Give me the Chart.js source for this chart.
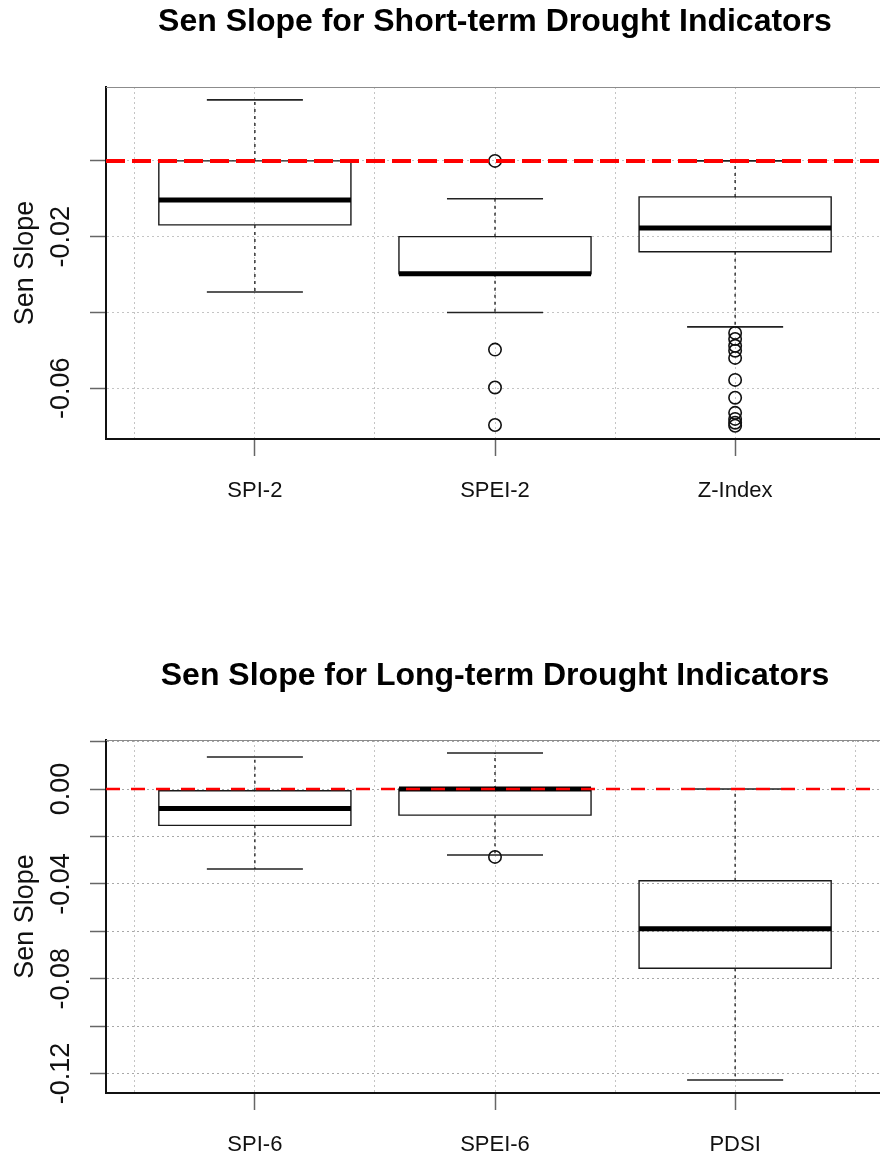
<!DOCTYPE html>
<html>
<head>
<meta charset="utf-8">
<title>Sen Slope boxplots</title>
<script src="https://cdn.jsdelivr.net/npm/chart.js@4.4.0/dist/chart.umd.min.js"></script>
<style>
  html, body { margin: 0; padding: 0; background: #fff; width: 880px; height: 1156px; overflow: hidden; }
  .panel { position: absolute; left: 0; width: 990px; }
  #short-panel { top: 0; height: 540px; }
  #long-panel { top: 620px; height: 536px; }
</style>
</head>
<body>
<div class="panel" id="short-panel"><canvas id="shortChart"></canvas></div>
<div class="panel" id="long-panel"><canvas id="longChart"></canvas></div>
<script>
// Short-term indicators
const shortCategories = ['SPI-2', 'SPEI-2', 'Z-Index'];
const shortUpper = [0.0161, -0.0100, 0.0];
const shortQ3 = [0.0, -0.0200, -0.0095];
const shortMedian = [-0.0103, -0.0298, -0.0177];
const shortQ1 = [-0.0169, -0.0298, -0.0240];
const shortLower = [-0.0346, -0.0400, -0.0438];
const shortOutliers = [
    [],
    [0.0, -0.0498, -0.0598, -0.0697],
    [-0.0454, -0.0470, -0.0488, -0.0501, -0.0520, -0.0578, -0.0625, -0.0665, -0.0681, -0.0691, -0.0699]
];
const shortYTicks = [0, -0.02, -0.04, -0.06];
const shortYTickLabels = ['', '-0.02', '', '-0.06'];

// Long-term indicators
const longCategories = ['SPI-6', 'SPEI-6', 'PDSI'];
const longUpper = [0.0135, 0.0152, 0.0];
const longQ3 = [-0.0007, 0.0, -0.0387];
const longMedian = [-0.0082, 0.0, -0.0589];
const longQ1 = [-0.0153, -0.0110, -0.0756];
const longLower = [-0.0337, -0.0278, -0.1227];
const longOutliers = [[], [-0.0286], []];
const longYTicks = [0.02, 0, -0.02, -0.04, -0.06, -0.08, -0.10, -0.12];
const longYTickLabels = ['', '0.00', '', '-0.04', '', '-0.08', '', '-0.12'];

const xGridTicks = [0.5, 1, 1.5, 2, 2.5, 3, 3.5];
const X_MIN = 0.38;
const X_MAX = 3.62;
const BOX_HALF = 0.4;
const CAP_HALF = 0.2;

const FONT = '"Liberation Sans", Arial, Helvetica, sans-serif';

// Build the line / point datasets for a boxplot
function boxDatasets(upper, q3, median, q1, lower, outliers, refStyle) {
    const boxPts = [], medPts = [], whiskPts = [], capPts = [], outPts = [];
    upper.forEach((_, i) => {
        const c = i + 1;
        const gap = { x: c, y: null };
        boxPts.push(
            { x: c - BOX_HALF, y: q1[i] }, { x: c + BOX_HALF, y: q1[i] },
            { x: c + BOX_HALF, y: q3[i] }, { x: c - BOX_HALF, y: q3[i] },
            { x: c - BOX_HALF, y: q1[i] }, gap
        );
        medPts.push({ x: c - BOX_HALF, y: median[i] }, { x: c + BOX_HALF, y: median[i] }, gap);
        whiskPts.push({ x: c, y: q3[i] }, { x: c, y: upper[i] }, gap);
        whiskPts.push({ x: c, y: q1[i] }, { x: c, y: lower[i] }, gap);
        capPts.push({ x: c - CAP_HALF, y: upper[i] }, { x: c + CAP_HALF, y: upper[i] }, gap);
        capPts.push({ x: c - CAP_HALF, y: lower[i] }, { x: c + CAP_HALF, y: lower[i] }, gap);
        outliers[i].forEach(v => outPts.push({ x: c, y: v }));
    });

    const line = (data, extra) => Object.assign({
        data: data,
        showLine: true,
        pointRadius: 0,
        borderColor: '#1a1a1a',
        borderWidth: 1.4,
        spanGaps: false
    }, extra);

    return [
        line([{ x: X_MIN, y: 0 }, { x: X_MAX, y: 0 }], {
            borderColor: '#ff0000',
            borderWidth: refStyle.width,
            borderDash: refStyle.dash,
            borderCapStyle: 'butt'
        }),
        {
            data: outPts,
            showLine: false,
            pointRadius: 6.2,
            pointStyle: 'circle',
            pointBorderColor: '#111',
            pointBackgroundColor: 'rgba(0,0,0,0)',
            pointBorderWidth: 1.6
        },
        line(medPts, { borderColor: '#000', borderWidth: 5, borderCapStyle: 'butt' }),
        line(boxPts, { borderJoinStyle: 'miter', borderCapStyle: 'square' }),
        line(whiskPts, { borderDash: [3, 4], borderWidth: 1.3 }),
        line(capPts, { borderWidth: 1.6, borderColor: '#222' })
    ];
}

// top frame line + rotated y tick labels (R style)
function frameAndLabels(yTicks, yLabels) {
    return {
        id: 'frameAndLabels',
        afterDraw(chart) {
            const { ctx, chartArea } = chart;
            const yScale = chart.scales.y;
            ctx.save();
            ctx.strokeStyle = '#8c8c8c';
            ctx.lineWidth = 1;
            ctx.beginPath();
            ctx.moveTo(chartArea.left, chartArea.top + 0.5);
            ctx.lineTo(chartArea.right, chartArea.top + 0.5);
            ctx.stroke();

            ctx.fillStyle = '#111';
            ctx.font = '27px ' + FONT;
            ctx.textAlign = 'center';
            ctx.textBaseline = 'alphabetic';
            yTicks.forEach((v, i) => {
                if (!yLabels[i]) return;
                ctx.save();
                ctx.translate(chartArea.left - 37, yScale.getPixelForValue(v));
                ctx.rotate(-Math.PI / 2);
                ctx.fillText(yLabels[i], 0, 0);
                ctx.restore();
            });
            ctx.restore();
        }
    };
}

function makeChart(canvasId, cfg) {
    const ctx = document.getElementById(canvasId).getContext('2d');
    return new Chart(ctx, {
        type: 'scatter',
        data: {
            datasets: boxDatasets(cfg.upper, cfg.q3, cfg.median, cfg.q1, cfg.lower, cfg.outliers, cfg.refStyle)
        },
        options: {
            responsive: true,
            maintainAspectRatio: false,
            animation: false,
            events: [],
            layout: { padding: 0 },
            plugins: {
                legend: { display: false },
                tooltip: { enabled: false },
                title: {
                    display: true,
                    text: cfg.title,
                    color: '#000',
                    font: { family: FONT, size: 32, weight: 'bold', lineHeight: 1.2 },
                    padding: { top: cfg.titleTop, bottom: cfg.titleBottom }
                }
            },
            scales: {
                x: {
                    type: 'linear',
                    position: 'bottom',
                    min: X_MIN,
                    max: X_MAX,
                    afterBuildTicks: scale => {
                        scale.ticks = xGridTicks.map(v => ({ value: v }));
                    },
                    afterFit: scale => { scale.height = cfg.xAxisHeight; },
                    grid: {
                        color: '#c4c4c4',
                        lineWidth: 1,
                        tickLength: 17,
                        tickWidth: 1.5,
                        tickColor: c => Number.isInteger(c.tick && c.tick.value) ? '#666' : 'rgba(0,0,0,0)'
                    },
                    border: { color: '#111', width: 2, dash: [2, 3] },
                    ticks: {
                        autoSkip: false,
                        maxRotation: 0,
                        padding: 22,
                        color: '#111',
                        font: { family: FONT, size: 22 },
                        callback: v => Number.isInteger(v) ? cfg.categories[v - 1] : ''
                    }
                },
                y: {
                    type: 'linear',
                    position: 'left',
                    min: cfg.yMin,
                    max: cfg.yMax,
                    afterBuildTicks: scale => {
                        scale.ticks = cfg.yTicks.map(v => ({ value: v }));
                    },
                    afterFit: scale => { scale.width = 106; },
                    grid: {
                        color: cfg.yGridColor,
                        lineWidth: 1,
                        tickLength: 16,
                        tickWidth: 1.5,
                        tickColor: '#666'
                    },
                    border: { color: '#111', width: 2, dash: [2, 3] },
                    ticks: { display: false },
                    title: {
                        display: true,
                        text: 'Sen Slope',
                        color: '#111',
                        font: { family: FONT, size: 27 },
                        padding: { top: 9, bottom: 0 }
                    }
                },
                // empty right-hand axis so the title is centred like the original
                yR: {
                    type: 'linear',
                    position: 'right',
                    afterFit: scale => { scale.width = 106; },
                    grid: { display: false },
                    border: { display: false },
                    ticks: { display: false }
                }
            }
        },
        plugins: [frameAndLabels(cfg.yTicks, cfg.yTickLabels)]
    });
}

makeChart('shortChart', {
    title: 'Sen Slope for Short-term Drought Indicators',
    titleTop: 3,
    titleBottom: 45.6,
    xAxisHeight: 101,
    categories: shortCategories,
    upper: shortUpper, q3: shortQ3, median: shortMedian, q1: shortQ1, lower: shortLower,
    outliers: shortOutliers,
    yMin: -0.0734,
    yMax: 0.0195,
    yTicks: shortYTicks,
    yTickLabels: shortYTickLabels,
    yGridColor: '#c4c4c4',
    refStyle: { width: 4, dash: [19, 7] }
});

makeChart('longChart', {
    title: 'Sen Slope for Long-term Drought Indicators',
    titleTop: 37,
    titleBottom: 44.6,
    xAxisHeight: 63,
    categories: longCategories,
    upper: longUpper, q3: longQ3, median: longMedian, q1: longQ1, lower: longLower,
    outliers: longOutliers,
    yMin: -0.1282,
    yMax: 0.0207,
    yTicks: longYTicks,
    yTickLabels: longYTickLabels,
    yGridColor: '#a8a8a8',
    refStyle: { width: 2.5, dash: [14, 11] }
});
</script>
</body>
</html>
